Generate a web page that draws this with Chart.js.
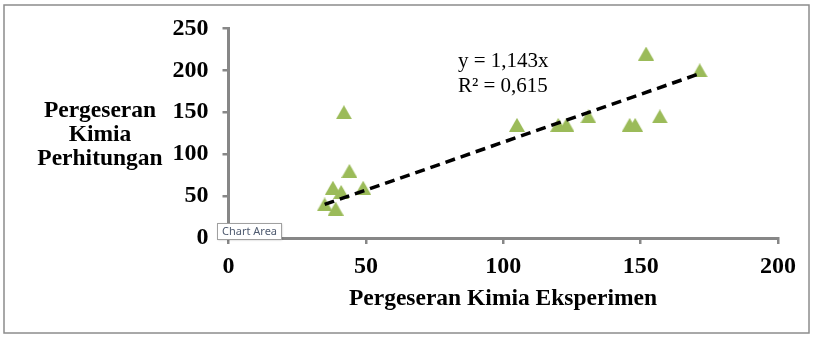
<!DOCTYPE html>
<html>
<head>
<meta charset="utf-8">
<script src="https://cdn.jsdelivr.net/npm/chart.js@4/dist/chart.umd.min.js"></script>
<style>
  html, body { margin: 0; padding: 0; background: #ffffff; }
  #wrap { position: relative; width: 813px; height: 338px; }
  canvas { display: block; }
</style>
</head>
<body>
<div id="wrap"><canvas id="c" width="813" height="338"></canvas></div>
<script>
// Experimental vs. computed chemical shift (ppm)
const experimentShift = [42, 44, 38, 41, 49, 35, 39, 105, 120, 123, 131, 146, 148, 157, 152, 171.5];
const computedShift   = [150, 80, 60, 55, 60, 40, 35, 135, 135, 135, 145, 135, 135, 145, 220, 200];

const xTicks = [0, 50, 100, 150, 200];
const yTicks = [0, 50, 100, 150, 200, 250];

// Linear fit through the origin
const slope = 1.143;
const equationLines = ['y = 1,143x', 'R² = 0,615'];

const xTitle = 'Pergeseran Kimia Eksperimen';
const yTitleLines = ['Pergeseran', 'Kimia', 'Perhitungan'];
const hoverLabel = 'Chart Area';

const markerColor = '#9bbb59';
const axisColor = '#878787';
const serif = "'Liberation Serif', 'Times New Roman', serif";

// Triangle marker centred on its bounding box
function triangleMarker(w, h, color) {
  const c = document.createElement('canvas');
  c.width = w; c.height = h;
  const g = c.getContext('2d');
  g.fillStyle = color;
  g.beginPath();
  g.moveTo(w / 2, 0);
  g.lineTo(w, h);
  g.lineTo(0, h);
  g.closePath();
  g.fill();
  return c;
}

const points = experimentShift.map((x, i) => ({ x: x, y: computedShift[i] }));
const xMin = Math.min(...experimentShift);
const xMax = Math.max(...experimentShift);
const fitLine = [{ x: xMin, y: slope * xMin }, { x: xMax, y: slope * xMax }];

const decorations = {
  id: 'decorations',
  afterDraw(chart) {
    const ctx = chart.ctx;
    const xs = chart.scales.x, ys = chart.scales.y;
    ctx.save();

    // outer frame
    ctx.strokeStyle = '#8c8c8c';
    ctx.lineWidth = 1.5;
    ctx.strokeRect(4, 5, 805, 328);

    // y axis title, horizontal, three centred lines
    ctx.fillStyle = '#000';
    ctx.font = 'bold 23.5px ' + serif;
    ctx.textAlign = 'center';
    ctx.textBaseline = 'alphabetic';
    const yBase = [117, 141, 165];
    yTitleLines.forEach((t, i) => ctx.fillText(t, 100, yBase[i]));

    // x axis title
    ctx.fillText(xTitle, 503, 305);

    // fit equation
    ctx.font = '21px ' + serif;
    ctx.textAlign = 'left';
    const ex = xs.getPixelForValue(83.5);
    const ey = ys.getPixelForValue(203.5);
    ctx.fillText(equationLines[0], ex, ey);
    ctx.fillText(equationLines[1], ex, ey + 25);

    // hover label box
    ctx.shadowColor = 'rgba(0,0,0,0.25)';
    ctx.shadowBlur = 2;
    ctx.shadowOffsetX = 1;
    ctx.shadowOffsetY = 1;
    ctx.fillStyle = '#ffffff';
    ctx.fillRect(217, 223, 64, 16);
    ctx.shadowColor = 'transparent';
    ctx.strokeStyle = '#a0a0a0';
    ctx.lineWidth = 1;
    ctx.strokeRect(217.5, 223.5, 64, 16);
    ctx.fillStyle = '#4f5b70';
    ctx.font = "11px 'Noto Sans', 'Open Sans', sans-serif";
    ctx.textBaseline = 'middle';
    ctx.fillText(hoverLabel, 222, 232);

    ctx.restore();
  }
};

new Chart(document.getElementById('c'), {
  type: 'scatter',
  data: {
    datasets: [
      {
        label: 'Linear',
        data: fitLine,
        showLine: true,
        borderColor: '#000000',
        borderWidth: 3.5,
        borderDash: [10, 6],
        pointRadius: 0,
        fill: false
      },
      {
        label: 'Data',
        data: points,
        pointStyle: triangleMarker(16, 14, markerColor),
        pointRadius: 8,
        backgroundColor: markerColor,
        borderColor: markerColor
      }
    ]
  },
  options: {
    responsive: false,
    animation: false,
    events: [],
    layout: { padding: { top: 28, right: 35, bottom: 0, left: 0 } },
    plugins: { legend: { display: false }, tooltip: { enabled: false } },
    scales: {
      x: {
        type: 'linear',
        min: 0, max: 200,
        afterBuildTicks: s => { s.ticks = xTicks.map(v => ({ value: v })); },
        afterFit: s => { s.height = 100; },
        ticks: { color: '#000', font: { family: serif, size: 24, weight: 'bold' }, padding: 8 },
        grid: { drawOnChartArea: false, drawTicks: true, tickLength: 6, color: axisColor, lineWidth: 2.5 },
        border: { color: axisColor, width: 3 }
      },
      y: {
        type: 'linear',
        min: 0, max: 250,
        afterBuildTicks: s => { s.ticks = yTicks.map(v => ({ value: v })); },
        afterFit: s => { s.width = 228.5; },
        ticks: { color: '#000', font: { family: serif, size: 24, weight: 'bold' }, padding: 14 },
        grid: { drawOnChartArea: false, drawTicks: true, tickLength: 6, color: axisColor, lineWidth: 2.5 },
        border: { color: axisColor, width: 3 }
      }
    }
  },
  plugins: [decorations]
});
</script>
</body>
</html>
